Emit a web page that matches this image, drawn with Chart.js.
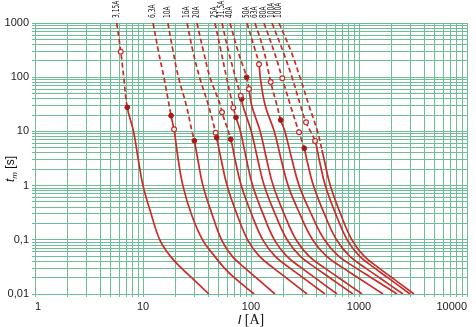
<!DOCTYPE html>
<html>
<head>
<meta charset="utf-8">
<script src="https://cdn.jsdelivr.net/npm/chart.js@4.4.0/dist/chart.umd.min.js"></script>
<style>
  html, body { margin: 0; padding: 0; background: #fff; }
  #wrap { width: 476px; height: 327px; }
</style>
</head>
<body>
<div id="wrap"><canvas id="grafica" width="476" height="327"></canvas></div>
<script>
// Curvas tiempo-corriente de fusibles: [I (A), t (s)]
const fuseNames = ["3,15A", "6,3A", "10A", "16A", "20A", "25A", "31,5A", "40A", "50A", "63A", "80A", "100A", "100A"];

const c315 = [[5.71,1000],[6.22,300],[6.63,100],[7.15,27.8],[8.17,10],[9.05,3],[10.0,1],[11.9,0.3],[14.3,0.1],[17.9,0.05],[22.7,0.03],[28.2,0.02],[40.8,0.01]];
const c63 = [[12.4,1000],[13.9,300],[15.6,100],[18.2,19.5],[19.5,10],[21.2,3],[23.4,1],[28.0,0.3],[35.6,0.1],[45.9,0.05],[56.8,0.03],[70.0,0.02],[107,0.01]];
const c10 = [[17.0,1000],[19.0,300],[21.3,100],[25.2,30],[28.4,10],[29.9,6.73],[32.2,3],[35.9,1],[43.5,0.3],[53.4,0.1],[66.8,0.05],[88.0,0.03],[111.5,0.02],[166.8,0.01]];
const c16 = [[25.6,1000],[29.0,300],[33.4,100],[40.4,30],[47.1,9.46],[48.1,7.65],[53.0,3],[60.0,1],[73.9,0.3],[93.0,0.1],[119.4,0.05],[161.9,0.03],[210.9,0.02],[330,0.01]];
const c20 = [[31.6,1000],[36.3,300],[41.7,100],[52.2,30],[53.9,22.5],[64.9,7.15],[71.3,3],[81.2,1],[101.1,0.3],[128.6,0.1],[166.8,0.05],[229.7,0.03],[303,0.02],[484,0.01]];
const c25 = [[46.4,1000],[52.8,300],[59.3,100],[68.6,27.4],[72.6,18.2],[79.8,10],[90.9,3],[103.5,1],[129.2,0.3],[164.7,0.1],[214.1,0.05],[295.3,0.03],[390.5,0.02],[626,0.01]];
const c315b = [[53.9,1000],[61.9,300],[71.9,100],[80.3,45.6],[82.0,39.6],[84.0,30],[100.6,10],[115.6,3],[132.5,1],[167.1,0.3],[215.9,0.1],[284.8,0.05],[399.9,0.03],[535.5,0.02],[880,0.01]];
const c40 = [[63.9,1000],[75.8,300],[91.2,99.6],[95.8,60.6],[101.5,30],[121.7,10],[139.8,3],[160.5,1],[202.5,0.3],[261.6,0.1],[344.3,0.05],[483.4,0.03],[648.6,0.02],[1066,0.01]];
const c50 = [[91.8,1000],[110.1,300],[118.6,173],[121.7,100],[135.4,30],[164.3,10],[190.4,3],[220.6,1],[283.1,0.3],[371.9,0.1],[499,0.05],[717.2,0.03],[981.1,0.02],[1668,0.01]];
const c63b = [[108.9,1000],[131.9,300],[152.2,81.5],[174.1,30],[188.4,16.2],[206,10],[239.7,3],[278.9,1],[360.9,0.3],[478.2,0.1],[647.2,0.05],[942.1,0.03],[1300,0.02],[2248,0.01]];
const c80 = [[131.9,1000],[163.3,300],[194.9,95.4],[232.1,30],[278.3,9.63],[311.5,4.88],[328.6,3],[378.3,1],[478.2,0.3],[619,0.1],[818.5,0.05],[1151,0.03],[1548,0.02],[2555,0.01]];
const c100 = [[156.5,1000],[197.9,300],[239.7,100],[287.3,30],[323.1,14.7],[391.4,6.65],[428.1,3],[487.5,1],[608.5,0.3],[777.6,0.1],[1011,0.05],[1398,0.03],[1848,0.02],[2966,0.01]];
const c100b = [[181.7,1000],[234.7,300],[284.3,100],[344.3,30],[412.8,10],[454.4,4.54],[476.2,3],[542.4,1],[675.2,0.3],[859.6,0.1],[1115,0.05],[1535,0.03],[2021,0.02],[3231,0.01]];

const curves = [c315, c63, c10, c16, c20, c25, c315b, c40, c50, c63b, c80, c100, c100b];
// último punto de la parte discontinua de cada curva
const dashEnd = [3, 3, 5, 5, 5, 4, 4, 3, 2, 4, 5, 5, 5];

const openMarks = [[6.22,295],[19.4,10.9],[47.1,9.46],[53.9,22.5],[68.6,27.4],[80.3,45.6],[95.8,60.6],[118.6,173],[152.2,81.5],[194.9,95.4],[278.3,9.63],[323.1,14.7],[391.4,6.65]];
const filledMarks = [[7.15,27.8],[18.2,19.5],[29.9,6.73],[48.1,7.65],[64.9,7.15],[72.6,18.2],[82.0,39.6],[91.2,99.6],[188.4,16.2],[311.5,4.88]];

const xTickValues = [1, 10, 100, 1000, 10000];
const xTickLabels = ["1", "10", "100", "1000", "10000"];
const yTickValues = [0.01, 0.1, 1, 10, 100, 1000];
const yTickLabels = ["0,01", "0,1", "1", "10", "100", "1000"];

const red = "#cc2a2a";
const gridColor = "#6dbd95";

function gridValues(minExp, maxExp) {
  const out = [];
  for (let e = minExp; e < maxExp; e++) {
    for (let m = 1; m <= 9; m++) out.push(m * Math.pow(10, e));
  }
  out.push(Math.pow(10, maxExp));
  return out;
}
function labelFor(v, values, labels) {
  for (let i = 0; i < values.length; i++) {
    if (Math.abs(Math.log10(v) - Math.log10(values[i])) < 1e-6) return labels[i];
  }
  return "";
}
const toXY = arr => arr.map(p => ({ x: p[0], y: p[1] }));

const datasets = curves.map((c, i) => ({
  data: toXY(c),
  showLine: true,
  borderColor: red,
  borderWidth: 1.7,
  pointRadius: 0,
  tension: 0.4,
  order: 1,
  segment: {
    borderDash: ctx => (ctx.p1DataIndex <= dashEnd[i] ? [5, 3] : []),
  },
}));
datasets.push({
  data: toXY(openMarks),
  pointRadius: 2.4,
  pointBackgroundColor: "#fff",
  pointBorderColor: red,
  pointBorderWidth: 1.2,
  order: 0,
});
datasets.push({
  data: toXY(filledMarks),
  pointRadius: 2.4,
  pointBackgroundColor: "#a81818",
  pointBorderColor: "#a81818",
  pointBorderWidth: 1,
  order: 0,
});

const extraText = {
  id: "extraText",
  afterDraw(chart) {
    const ctx = chart.ctx;
    const xs = chart.scales.x;
    const area = chart.chartArea;
    ctx.save();
    ctx.fillStyle = "#111";
    ctx.font = '8px "Liberation Sans Narrow", "DejaVu Sans Condensed", sans-serif';
    ctx.textAlign = "left";
    ctx.textBaseline = "middle";
    curves.forEach((c, i) => {
      const px = xs.getPixelForValue(c[0][0]);
      ctx.save();
      ctx.translate(px, area.top - 5);
      ctx.rotate(-Math.PI / 2);
      ctx.scale(0.82, 1);
      ctx.fillText(fuseNames[i], 0, 0);
      ctx.restore();
    });

    // título eje x: I [A]
    ctx.textBaseline = "alphabetic";
    const f1 = 'italic 13px "Liberation Sans", Arial, sans-serif';
    const f2 = '14px "Liberation Serif", "Times New Roman", serif';
    ctx.font = f1; const w1 = ctx.measureText("I").width;
    ctx.font = f2; const w2 = ctx.measureText(" [A]").width;
    let x0 = (area.left + area.right) / 2 - (w1 + w2) / 2;
    ctx.font = f1; ctx.fillText("I", x0, 324);
    ctx.font = f2; ctx.fillText(" [A]", x0 + w1, 324);

    // título eje y: t_m [s]
    ctx.save();
    ctx.translate(14, 169);
    ctx.rotate(-Math.PI / 2);
    const g1 = 'italic 12px "Liberation Sans", Arial, sans-serif';
    const g2 = 'italic 8px "Liberation Sans", Arial, sans-serif';
    const g3 = '12px "Liberation Sans", Arial, sans-serif';
    ctx.font = g1; const a1 = ctx.measureText("t").width;
    ctx.font = g2; const a2 = ctx.measureText("m").width;
    ctx.font = g3; const a3 = ctx.measureText(" [s]").width;
    let s0 = -(a1 + a2 + a3) / 2;
    ctx.font = g1; ctx.fillText("t", s0, 0);
    ctx.font = g2; ctx.fillText("m", s0 + a1, 3);
    ctx.font = g3; ctx.fillText(" [s]", s0 + a1 + a2, 0);
    ctx.restore();
    ctx.restore();
  },
};

document.addEventListener("DOMContentLoaded", function () {
  const ctx = document.getElementById("grafica").getContext("2d");
  new Chart(ctx, {
    type: "scatter",
    data: { datasets },
    options: {
      responsive: false,
      animation: false,
      layout: { padding: { top: 23, right: 9, left: 0, bottom: 0 } },
      plugins: { legend: { display: false }, tooltip: { enabled: false } },
      scales: {
        x: {
          type: "logarithmic",
          min: 1,
          max: 10000,
          afterBuildTicks: s => { s.ticks = gridValues(0, 4).map(v => ({ value: v })); },
          afterFit: s => { s.height = 33; s.paddingLeft = 0; s.paddingRight = 0; },
          grid: { color: gridColor, lineWidth: 1, tickLength: 3 },
          border: { color: gridColor },
          ticks: {
            autoSkip: false,
            maxRotation: 0,
            align: "inner",
            padding: 3,
            color: "#222",
            font: { family: '"Liberation Sans", Arial, sans-serif', size: 11 },
            callback: v => labelFor(v, xTickValues, xTickLabels),
          },
        },
        y: {
          type: "logarithmic",
          min: 0.01,
          max: 1000,
          afterBuildTicks: s => { s.ticks = gridValues(-2, 3).map(v => ({ value: v })); },
          afterFit: s => { s.width = 35; },
          grid: { color: gridColor, lineWidth: 1, tickLength: 3 },
          border: { color: gridColor },
          ticks: {
            autoSkip: false,
            padding: 3,
            color: "#222",
            font: { family: '"Liberation Sans", Arial, sans-serif', size: 11 },
            callback: v => labelFor(v, yTickValues, yTickLabels),
          },
        },
      },
    },
    plugins: [extraText],
  });
});
</script>
</body>
</html>
